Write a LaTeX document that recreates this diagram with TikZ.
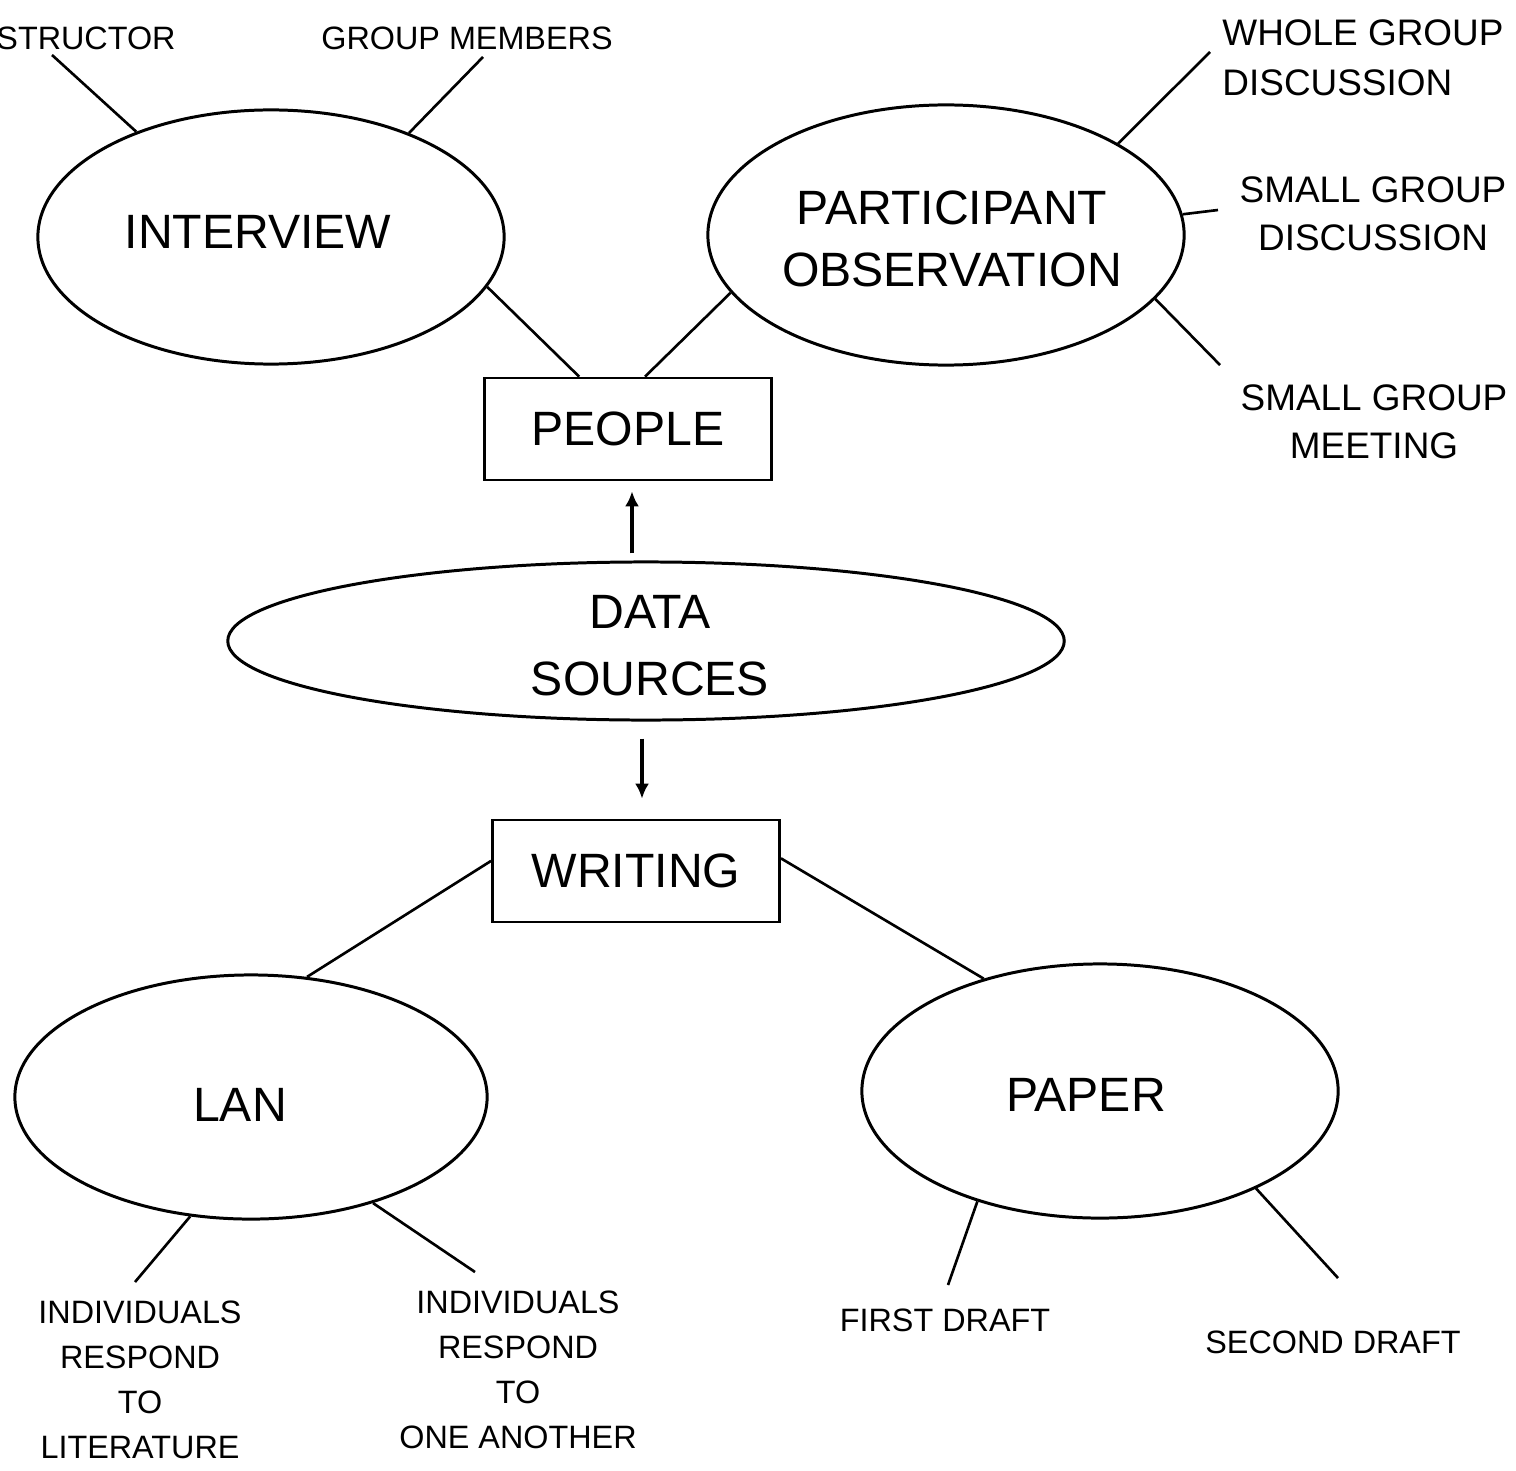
\documentclass[tikz,border=0pt]{standalone}
\usepackage{fontspec}
\setmainfont{Liberation Sans}
\usetikzlibrary{shapes.geometric,arrows.meta}

\tikzset{>={Latex[length=1.5mm,width=1.4mm]}}
\tikzset{
  blob/.style={draw, ellipse, line width=0.85pt, inner sep=0pt},
  box/.style={draw, line width=0.75pt, minimum width=2.87cm, minimum height=1.02cm},
  big/.style={font=\fontsize{13.7}{17.6}\selectfont, align=center},
  lbl/.style={font=\fontsize{9.2}{12.8}\selectfont, align=center},
  rlbl/.style={font=\fontsize{10.5}{13.8}\selectfont, align=center},
  link/.style={line width=0.75pt},
  arr/.style={->, line width=1.2pt}
}

\begin{document}
\begin{tikzpicture}[x=0.01cm, y=-0.01cm]
  \useasboundingbox (0,0) rectangle (1516,1470);

  % ellipses and their words
  \node[blob, minimum width=4.66cm, minimum height=2.54cm] (int) at (271,237) {};
  \node[big] (int-t) at (258,232) {INTERVIEW};
  \node[blob, minimum width=4.76cm, minimum height=2.60cm] (obs) at (946,235) {};
  \node[big] (obs-t) at (952,239) {PARTICIPANT\\OBSERVATION};
  \node[blob, minimum width=8.36cm, minimum height=1.58cm] (ds) at (646,641) {};
  \node[big, font=\fontsize{13.7}{19}\selectfont] (ds-t) at (650,646) {DATA\\SOURCES};
  \node[blob, minimum width=4.72cm, minimum height=2.44cm] (lan) at (251,1097) {};
  \node[big] (lan-t) at (240,1105) {LAN};
  \node[blob, minimum width=4.76cm, minimum height=2.54cm] (pap) at (1100,1091) {};
  \node[big] (pap-t) at (1086,1095) {PAPER};

  % boxes
  \node[box, big] (peo) at (628,429) {PEOPLE};
  \node[box, big] (wri) at (636,871) {WRITING};

  % outer labels
  \node[lbl] (ins) at (86,38) {STRUCTOR};
  \node[lbl] (grp) at (467,38) {GROUP MEMBERS};
  \node[rlbl, anchor=west, align=left, font=\fontsize{10.5}{14.2}\selectfont] (whole) at (1210,58) {WHOLE GROUP\\DISCUSSION};
  \node[rlbl] (sgd) at (1373,214) {SMALL GROUP\\DISCUSSION};
  \node[rlbl] (sgm) at (1374,422) {SMALL GROUP\\MEETING};
  \node[lbl] (lit) at (140,1380) {INDIVIDUALS\\RESPOND\\TO\\LITERATURE};
  \node[lbl] (ano) at (518,1370) {INDIVIDUALS\\RESPOND\\TO\\ONE ANOTHER};
  \node[lbl] (fd) at (945,1320) {FIRST DRAFT};
  \node[lbl] (sd) at (1333,1342) {SECOND DRAFT};

  % free ends of the spokes
  \coordinate (ins-e) at (52,55);
  \coordinate (grp-e) at (483,57);
  \coordinate (whole-e) at (1210,52);
  \coordinate (sgd-e) at (1218,210);
  \coordinate (sgm-e) at (1220,365);
  \coordinate (lit-e) at (135,1282);
  \coordinate (ano-e) at (475,1272);
  \coordinate (fd-e) at (948,1285);
  \coordinate (sd-e) at (1338,1278);

  % spokes
  \draw[link] (int.142.6) -- (ins-e);
  \draw[link] (int.37.3) -- (grp-e);
  \draw[link] (obs.28.4) -- (whole-e);
  \draw[link] (obs.5) -- (sgd-e);
  \draw[link] (obs.-17.9) -- (sgm-e);
  \draw[link] (lan.243.3) -- (lit-e);
  \draw[link] (lan.-41) -- (ano-e);
  \draw[link] (pap.222.4) -- (fd-e);
  \draw[link] (pap.-32.6) -- (sd-e);

  % links to the boxes
  \draw[link] (int.-13.7) -- (peo.133);
  \draw[link] (peo.72) -- (obs.195.6);
  \draw[link] (wri.176) -- (lan.65.9);
  \draw[link] (wri.5) -- (pap.136);

  % arrows
  \draw[arr, shorten <=0.07cm, shorten >=0.1cm] ([xshift=0.04cm]peo.south |- ds.north) -- ([xshift=0.04cm]peo.south);
  \draw[arr, shorten <=0.17cm, shorten >=0.2cm] ([xshift=0.06cm]wri.north |- ds.south) -- ([xshift=0.06cm]wri.north);
\end{tikzpicture}
\end{document}
